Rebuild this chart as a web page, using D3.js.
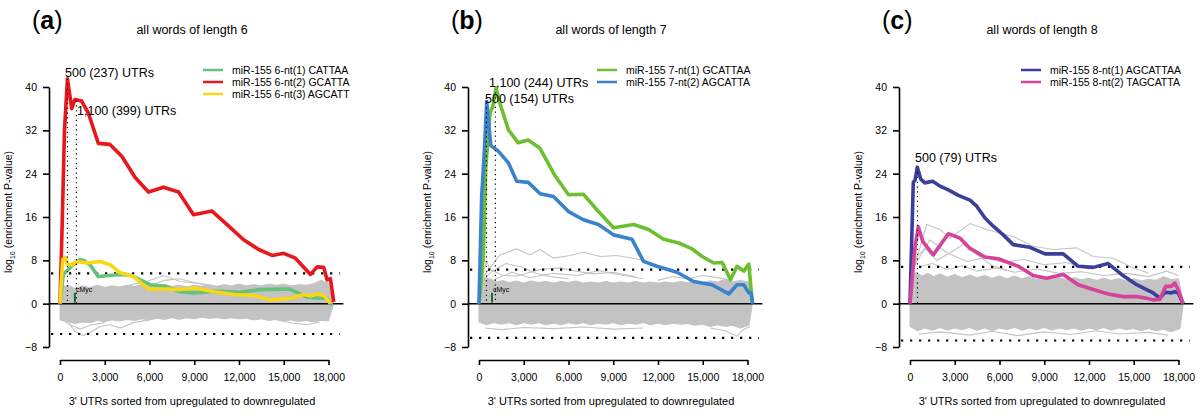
<!DOCTYPE html>
<html lang="en">
<head>
    <meta charset="UTF-8">
    <title>miR-155 word enrichment</title>
    <script src="https://d3js.org/d3.v7.min.js"></script>
    <style>
        body { margin: 0; background: #fff; }
        svg text { font-family: "Liberation Sans", Arial, Helvetica, sans-serif; fill: #000; }
    </style>
</head>
<body>
    <svg id="chart" width="1200" height="418"></svg>

    <script>
        // ---- datos ----
        const panelKeys = ["a", "b", "c"];
        const titles = ["all words of length 6", "all words of length 7", "all words of length 8"];
        const xTicks = [0, 3000, 6000, 9000, 12000, 15000, 18000];
        const yTicks = [-8, 0, 8, 16, 24, 32, 40];
        const thresholds = [5.6, 6.3, 6.8];

        // panel (a)
        const namesA = ["miR-155 6-nt(1) CATTAA", "miR-155 6-nt(2) GCATTA", "miR-155 6-nt(3) AGCATT"];
        const colorsA = ["#66c17a", "#e8171c", "#f9d616"];
        const greenA = [[0,0],[220,5.4],[560,6.3],[790,7.0],[1340,8.1],[1570,8.0],[2000,7.2],[2570,5.0],[4030,5.4],[4800,5.2],[6040,3.5],[7050,3.2],[8060,2.2],[9000,2.0],[10500,2.3],[12100,2.1],[13400,2.6],[15400,2.7],[16560,1.2],[17460,1.0],[17900,1.0],[18250,-0.3]];
        const redA = [[0,0],[150,15],[300,32],[500,41.5],[790,36],[1000,37.7],[1450,37.4],[1900,35.2],[2570,29.6],[3350,29.4],[4140,27.2],[5040,23.3],[5930,20.6],[6940,21.5],[7950,20.6],[8950,16.4],[10190,17.1],[11200,14.6],[12310,11.8],[13320,10.0],[14220,8.9],[15000,9.3],[15780,8.4],[16790,5.4],[17240,6.8],[17680,6.7],[17900,4.4],[18130,4.6],[18350,0.3]];
        const yellowA = [[0,0],[180,8.1],[340,8.6],[510,7.2],[790,7.2],[1160,7.8],[1790,7.5],[2690,7.8],[3360,7.2],[4030,5.7],[4930,5.0],[5930,2.7],[7050,2.7],[8060,2.6],[9070,2.9],[10300,2.2],[11640,1.7],[12980,1.5],[14100,0.7],[15450,1.0],[16340,1.7],[16790,1.4],[17240,1.8],[17690,1.5],[17910,0.8],[18130,0]];
        const bandUpA = [[0,3.0],[500,3.4],[1000,2.8],[1500,3.3],[2000,3.0],[2500,3.4],[3000,3.0],[3500,3.3],[4000,3.1],[4500,3.4],[5000,3.2],[5500,3.5],[6000,3.2],[6500,3.4],[7000,3.6],[7500,3.2],[8000,3.4],[8500,3.1],[9000,3.4],[9500,3.2],[10000,3.5],[10500,3.2],[11000,3.5],[11500,3.3],[12000,3.6],[12500,3.3],[13000,3.5],[13500,3.3],[14000,3.6],[14500,3.4],[15000,3.6],[15500,3.3],[16000,3.5],[16500,3.4],[17000,3.7],[17500,4.3],[18000,3.8],[18300,0.5]];
        const bandLoA = [[0,-3.0],[500,-3.3],[1000,-3.7],[1500,-3.4],[2000,-3.5],[2500,-3.1],[3000,-3.3],[3500,-3.0],[4000,-3.2],[4500,-2.9],[5000,-3.1],[5500,-2.8],[6000,-3.0],[6500,-2.7],[7000,-2.9],[7500,-2.6],[8000,-2.9],[8500,-2.6],[9000,-2.8],[9500,-2.5],[10000,-2.7],[10500,-2.6],[11000,-2.8],[11500,-2.6],[12000,-2.8],[12500,-2.7],[13000,-3.0],[13500,-2.8],[14000,-3.1],[14500,-2.9],[15000,-3.2],[15500,-3.0],[16000,-3.3],[16500,-3.1],[17000,-3.4],[17500,-3.1],[18000,-3.2],[18300,-0.5]];
        const outliersA = [
            [[4000,3.0],[4900,3.6],[5820,4.1],[6940,5.2],[8060,4.1],[9400,3.7],[10500,3.0]],
            [[6000,3.2],[7000,4.3],[8000,4.6],[9000,3.9],[10000,3.4]],
            [[300,-2.5],[1000,-5.1],[1560,-5.9],[2130,-5.1],[2690,-4.2],[3360,-3.9],[4030,-4.5],[4930,-3.5],[6000,-3.0]],
            [[200,-2.8],[450,-3.6],[1340,-4.7],[2000,-4.0],[3000,-3.5]],
            [[14500,-3.0],[15670,-3.6],[16560,-3.9],[17400,-3.4]]
        ];
        const marksA = [[500,41.5],[1100,37.5]];
        const markLabelsA = ["500 (237) UTRs", "1,100 (399) UTRs"];

        // panel (b)
        const namesB = ["miR-155 7-nt(1) GCATTAA", "miR-155 7-nt(2) AGCATTA"];
        const colorsB = ["#6cc02f", "#3a82cd"];
        const greenB = [[0,0],[290,8.7],[450,25],[740,35.2],[920,36.4],[1140,39.8],[1400,37],[1970,32.1],[2630,29.7],[3300,30.2],[4080,28.7],[5100,23.6],[6000,20.1],[7000,20.2],[8010,17.0],[9020,14.0],[10370,14.6],[11370,13.7],[12380,11.9],[13390,11.2],[14290,10.1],[14960,8.7],[15740,7.5],[16300,7.6],[16860,4.4],[17300,6.9],[17750,6.0],[18090,7.3],[18310,0.4]];
        const blueB = [[0,0],[180,19.8],[340,27.2],[520,37.3],[790,29.2],[1190,28.4],[1410,27.8],[1970,26.0],[2530,22.6],[3300,22.4],[4100,20.3],[4990,19.8],[6000,17.0],[7000,15.5],[8010,14.6],[9020,12.7],[10250,11.9],[11030,7.8],[11930,6.9],[13270,5.8],[14390,4.1],[15620,3.5],[16740,1.8],[17300,3.5],[17750,3.5],[18090,2.0],[18240,2.0],[18350,0]];
        const bandUpB = [[0,3.5],[300,4.9],[800,4.5],[1200,4.0],[1600,4.3],[2000,3.9],[2500,4.2],[3000,3.8],[3500,4.2],[4000,3.9],[4500,4.1],[5000,3.8],[5500,4.1],[6000,3.9],[6500,4.2],[7000,3.8],[7500,4.0],[8000,3.8],[8500,4.1],[9000,3.8],[9500,4.0],[10000,3.8],[10500,4.1],[11000,3.8],[11500,4.0],[12000,3.8],[12500,4.0],[13000,3.8],[13500,4.1],[14000,3.9],[14500,4.3],[15000,3.9],[15500,4.2],[16000,4.0],[16500,4.5],[17000,4.0],[17500,4.3],[18100,4.0],[18300,0.5]];
        const bandLoB = [[0,-3.4],[500,-3.9],[1000,-3.5],[1500,-3.8],[2000,-3.5],[2500,-3.9],[3000,-3.5],[3500,-3.8],[4000,-3.5],[4500,-3.9],[5000,-3.6],[5500,-3.9],[6000,-3.5],[6500,-3.8],[7000,-3.5],[7500,-3.9],[8000,-3.6],[8500,-3.8],[9000,-3.5],[9500,-3.9],[10000,-3.6],[10500,-3.8],[11000,-3.5],[11500,-3.9],[12000,-3.6],[12500,-3.9],[13000,-3.6],[13500,-3.8],[14000,-3.7],[14500,-4.0],[15000,-3.8],[15500,-4.2],[16000,-3.9],[16500,-4.2],[17000,-4.0],[17500,-4.5],[18100,-4.0],[18300,-0.5]];
        const outliersB = [
            [[300,5],[1410,9.0],[2530,10.1],[3420,9.0],[4090,10.0],[4990,8.4],[6100,8.9],[7000,9.5],[8130,8.7],[9240,8.9],[10360,8.4],[11260,7.8],[12300,6.5],[13500,5.5]],
            [[200,5],[520,7.8],[740,6.3],[1600,5.2],[2530,5.1],[4090,6.3],[5440,6.6],[6500,6.0],[7600,5.5],[9000,5.8],[10500,5.0]],
            [[300,4.5],[900,6.0],[1800,7.4],[2800,6.8],[3800,5.6],[4800,5.0],[6000,4.6]],
            [[1000,4.4],[2200,5.8],[3400,4.8],[5000,5.6],[6600,5.2],[8000,6.1],[9500,5.3],[11000,4.6]],
            [[12000,4.3],[13000,5.0],[14000,4.6],[15000,5.2],[16000,4.8],[17000,4.3]],
            [[400,-4.5],[1500,-4.8],[3000,-4.4],[5000,-4.6],[7000,-4.3],[9000,-4.7],[11000,-4.5]],
            [[15500,-4.5],[16500,-5.0],[17300,-6.0],[17700,-4.8],[18200,-4.2]]
        ];
        const marksB = [[1100,39.0],[500,38.0]];
        const markLabelsB = ["1,100 (244) UTRs", "500 (154) UTRs"];

        // panel (c)
        const namesC = ["miR-155 8-nt(1) AGCATTAA", "miR-155 8-nt(2) TAGCATTA"];
        const colorsC = ["#3b3f9b", "#d6419c"];
        const navyC = [[0,0],[220,22.4],[340,22.8],[490,25.2],[720,23.0],[1000,22.3],[1520,22.6],[2010,21.7],[2570,21.0],[3240,20.0],[4020,19.1],[4470,18.0],[5030,15.8],[5580,14.3],[6250,12.7],[6920,10.9],[8040,10.4],[9050,9.2],[10270,9.2],[11280,6.9],[12280,6.7],[13290,7.4],[14180,5.4],[15190,3.5],[16300,2.0],[16750,1.0],[17090,2.1],[17530,2.0],[17750,2.2],[17980,2.0],[18310,0]];
        const pinkC = [[0,0],[340,10.6],[560,14.2],[850,11.5],[1560,9.0],[2570,12.9],[3350,12.1],[4020,10.2],[5030,8.6],[5920,8.3],[7260,6.9],[8260,5.2],[9160,4.7],[10270,5.4],[11280,3.5],[12280,2.6],[13290,1.8],[14290,1.3],[15190,1.3],[15860,1.0],[16300,0.7],[16750,0.8],[17150,3.2],[17530,3.2],[17750,3.8],[17980,2.6],[18310,0]];
        const bandUpC = [[0,4.5],[400,5.8],[800,5.1],[1200,5.6],[1600,5.0],[2000,5.5],[2500,4.9],[3000,5.4],[3500,4.8],[4000,5.3],[4500,4.8],[5000,5.2],[5500,4.7],[6000,5.1],[6500,4.6],[7000,5.1],[7500,4.6],[8000,5.0],[8500,4.5],[9000,4.9],[9500,4.5],[10000,4.8],[10500,4.4],[11000,4.8],[11500,4.4],[12000,4.7],[12500,4.3],[13000,4.7],[13500,4.3],[14000,4.6],[14500,4.2],[15000,4.6],[15500,4.2],[16000,4.5],[16500,4.3],[17000,5.0],[17500,4.4],[18000,4.6],[18300,0.5]];
        const bandLoC = [[0,-4.2],[500,-5.0],[1000,-4.5],[1500,-4.9],[2000,-4.4],[2500,-4.9],[3000,-4.5],[3500,-4.8],[4000,-4.4],[4500,-4.9],[5000,-4.5],[5500,-5.0],[6000,-4.5],[6500,-4.8],[7000,-4.4],[7500,-4.9],[8000,-4.5],[8500,-4.8],[9000,-4.4],[9500,-4.9],[10000,-4.5],[10500,-4.8],[11000,-4.5],[11500,-4.9],[12000,-4.5],[12500,-4.8],[13000,-4.4],[13500,-4.9],[14000,-4.5],[14500,-4.8],[15000,-4.6],[15500,-5.0],[16000,-4.6],[16500,-5.0],[17000,-4.7],[17500,-5.2],[18100,-4.6],[18300,-0.5]];
        const outliersC = [
            [[200,6],[1120,14.6],[2010,13.7],[2680,12.1],[4020,14.8],[5140,13.7],[6920,12.4],[8260,10.6],[9600,10.0],[11170,10.3],[12280,8.7],[13620,8.4],[14800,6.8],[16000,5.6]],
            [[300,7],[1340,11.8],[2460,9.4],[3800,7.8],[5000,8.5],[6300,7.6],[7600,8.2],[9000,7.2],[10500,7.6],[12000,6.4]],
            [[400,8.5],[1000,10.2],[1800,8.0],[2800,9.6],[3600,11.0],[4500,9.0],[5500,7.0],[6500,6.2]],
            [[600,6.8],[1500,7.4],[2500,6.3],[3500,7.0],[4500,6.0],[5800,6.6],[7000,5.8],[8500,6.4],[10000,5.6],[11500,5.9],[13000,5.2],[14500,5.6],[16000,5.0],[17200,6.0],[18000,5.2]],
            [[600,-5.6],[2000,-5.2],[4000,-5.8],[5500,-5.1],[7200,-5.9],[9000,-5.2],[10800,-5.7],[12500,-5.0],[14000,-5.6],[16000,-5.3],[17300,-5.8]]
        ];
        const marksC = [[500,24.3]];
        const markLabelsC = ["500 (79) UTRs"];

        const cMycX = [1000, 870, null];

        // ---- layout ----
        const panels = [
            {left: 60, series: [greenA, redA, yellowA], names: namesA, colors: colorsA,
             bandUp: bandUpA, bandLo: bandLoA, outliers: outliersA, marks: marksA, markLabels: markLabelsA,
             labelPos: [[65, 77], [77, 115]], legendX: 203},
            {left: 479, series: [greenB, blueB], names: namesB, colors: colorsB,
             bandUp: bandUpB, bandLo: bandLoB, outliers: outliersB, marks: marksB, markLabels: markLabelsB,
             labelPos: [[489, 87], [485, 103]], legendX: 597},
            {left: 910, series: [navyC, pinkC], names: namesC, colors: colorsC,
             bandUp: bandUpC, bandLo: bandLoC, outliers: outliersC, marks: marksC, markLabels: markLabelsC,
             labelPos: [[915, 162]], legendX: 1021}
        ];

        const svg = d3.select("#chart");
        const y = d3.scaleLinear().domain([-8, 40]).range([347, 87]);

        panels.forEach((p, i) => {
            const x = d3.scaleLinear().domain([0, 18000]).range([p.left, p.left + 268.5]);
            const axisX = p.left - 11;
            const g = svg.append("g");
            const line = d3.line().x(d => x(d[0])).y(d => y(d[1]));

            // banda gris de palabras aleatorias
            const bandPts = p.bandUp.concat(p.bandLo.slice().reverse());
            g.append("path")
             .attr("d", line(bandPts) + "Z")
             .attr("fill", "#c3c3c3")
             .attr("stroke", "#c3c3c3")
             .attr("stroke-width", 1);

            g.selectAll(".outlier")
             .data(p.outliers)
             .enter()
             .append("path")
             .attr("d", line)
             .attr("fill", "none")
             .attr("stroke", "#c4c4c4")
             .attr("stroke-width", 1.1);

            // linea cero
            g.append("line")
             .attr("x1", axisX).attr("x2", x(19000))
             .attr("y1", y(0)).attr("y2", y(0))
             .attr("stroke", "#000").attr("stroke-width", 1.5);

            // umbrales punteados
            [thresholds[i], -thresholds[i]].forEach(t => {
                g.append("line")
                 .attr("x1", x(-600)).attr("x2", x(18750))
                 .attr("y1", y(t)).attr("y2", y(t))
                 .attr("stroke", "#000")
                 .attr("stroke-width", 2.2)
                 .attr("stroke-dasharray", "2.2,6.8");
            });

            // series
            p.series.forEach((s, k) => {
                g.append("path")
                 .datum(s)
                 .attr("fill", "none")
                 .attr("stroke", p.colors[k])
                 .attr("stroke-width", 3.6)
                 .attr("stroke-linejoin", "round")
                 .attr("d", line);
            });

            // lineas verticales y etiquetas
            p.marks.forEach((m, k) => {
                g.append("line")
                 .attr("x1", x(m[0])).attr("x2", x(m[0]))
                 .attr("y1", y(m[1])).attr("y2", y(0))
                 .attr("stroke", "#000")
                 .attr("stroke-width", 1.2)
                 .attr("stroke-dasharray", "1.2,3.6");
                g.append("text")
                 .attr("x", p.labelPos[k][0])
                 .attr("y", p.labelPos[k][1])
                 .attr("font-size", "12.5px")
                 .text(p.markLabels[k]);
            });

            // cMyc
            if (cMycX[i] !== null) {
                g.append("line")
                 .attr("x1", x(cMycX[i])).attr("x2", x(cMycX[i]))
                 .attr("y1", y(2)).attr("y2", y(0.2))
                 .attr("stroke", "#1d6b2c").attr("stroke-width", 2);
                g.append("text")
                 .attr("x", x(cMycX[i]) + 1)
                 .attr("y", y(2.1))
                 .attr("font-size", "7px")
                 .attr("fill", "#333")
                 .text("cMyc");
            }

            // ejes
            const yAxis = g.append("g")
             .attr("transform", `translate(${axisX},0)`)
             .call(d3.axisLeft(y).tickValues(yTicks).tickSize(6).tickSizeOuter(0).tickPadding(6));
            yAxis.selectAll("text").attr("font-size", "10.5px").style("font-family", "Liberation Sans, Arial, sans-serif");
            yAxis.selectAll("path, line").attr("stroke-width", 1.6);

            const xAxis = g.append("g")
             .attr("transform", "translate(0,360)")
             .call(d3.axisBottom(x).tickValues(xTicks).tickFormat(d3.format(",")).tickSize(5).tickSizeOuter(0).tickPadding(9));
            xAxis.selectAll("text").attr("font-size", "10.5px").style("font-family", "Liberation Sans, Arial, sans-serif");
            xAxis.selectAll("path, line").attr("stroke-width", 1.6);

            // titulos
            const mid = p.left + 132;
            g.append("text")
             .attr("x", mid).attr("y", 34)
             .attr("text-anchor", "middle")
             .attr("font-size", "12.5px")
             .text(titles[i]);

            g.append("text")
             .attr("x", mid).attr("y", 405)
             .attr("text-anchor", "middle")
             .attr("font-size", "11px")
             .text("3' UTRs sorted from upregulated to downregulated");

            const yl = g.append("text")
             .attr("transform", `translate(${axisX - 37},212) rotate(-90)`)
             .attr("text-anchor", "middle")
             .attr("font-size", "10.5px");
            yl.append("tspan").text("log");
            yl.append("tspan").attr("font-size", "7px").attr("dy", 3).text("10");
            yl.append("tspan").attr("dy", -3).text(" (enrichment P-value)");

            const pl = g.append("text")
             .attr("x", axisX - 17).attr("y", 29)
             .attr("font-size", "25px");
            pl.append("tspan").text("(");
            pl.append("tspan").attr("font-weight", "bold").text(panelKeys[i]);
            pl.append("tspan").text(")");

            // leyenda
            p.names.forEach((n, k) => {
                const ly = 70 + k * 12;
                g.append("line")
                 .attr("x1", p.legendX).attr("x2", p.legendX + 20)
                 .attr("y1", ly).attr("y2", ly)
                 .attr("stroke", p.colors[k]).attr("stroke-width", 2.5);
                g.append("text")
                 .attr("x", p.legendX + 29).attr("y", ly + 3.7)
                 .attr("font-size", "10.5px")
                 .text(n);
            });
        });
    </script>
</body>
</html>
